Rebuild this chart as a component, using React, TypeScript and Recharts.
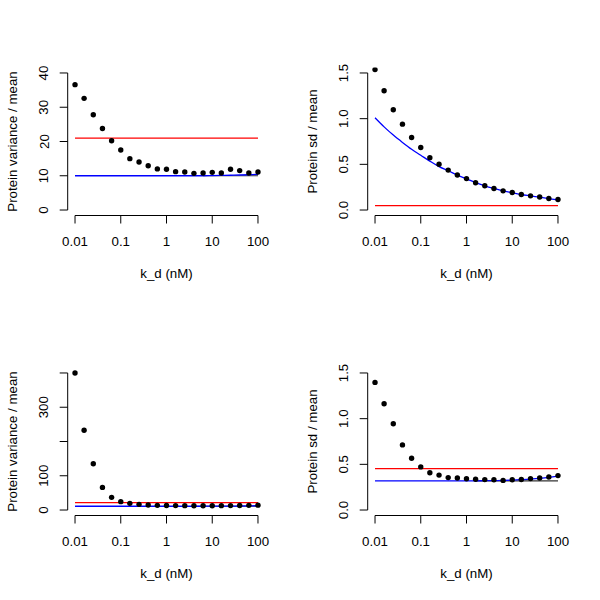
import React from "react";
import { ComposedChart, Line, Scatter, XAxis, YAxis, ReferenceLine } from "recharts";

// k_d grid (nM), five points per decade
const kd = [0.01, 0.0158, 0.0251, 0.0398, 0.0631, 0.1, 0.158, 0.251, 0.398, 0.631, 1, 1.58, 2.51, 3.98, 6.31, 10, 15.8, 25.1, 39.8, 63.1, 100];
const xTicks = [0.01, 0.1, 1, 10, 100];

// top left: variance / mean
const varPtsA = [36.6, 32.6, 27.8, 23.8, 20.2, 17.5, 15.0, 14.0, 12.9, 12.0, 11.9, 11.2, 11.1, 10.7, 10.8, 11.0, 10.8, 11.9, 11.5, 10.8, 11.1];
const varBlueA = [10, 10, 10, 10, 10, 10, 10, 10, 10, 10, 10, 10, 10, 10, 10, 10.05, 10.1, 10.15, 10.22, 10.3, 10.4];
const varRedA = 21;
const varBlackA = 10;

// top right: sd / mean
const sdPtsA = [1.537, 1.306, 1.098, 0.94, 0.794, 0.684, 0.573, 0.501, 0.437, 0.383, 0.344, 0.298, 0.265, 0.236, 0.21, 0.192, 0.17, 0.155, 0.143, 0.126, 0.115];
const sdBlueA = [1.01, 0.91, 0.82, 0.74, 0.665, 0.6, 0.535, 0.475, 0.43, 0.382, 0.342, 0.3, 0.265, 0.236, 0.21, 0.19, 0.17, 0.155, 0.14, 0.125, 0.11];
const sdRedA = 0.047;

// bottom left: variance / mean
const varPtsB = [400, 233, 135, 66, 37, 24.5, 19.5, 16.6, 14.6, 13.6, 13.2, 12.9, 12.7, 12.6, 12.6, 12.6, 12.7, 12.9, 13.2, 13.6, 14.2];
const varBlueB = [11, 11, 11, 11, 11, 11, 11, 11, 11, 11, 11, 11, 11, 11, 11.1, 11.2, 11.3, 11.5, 11.8, 12.1, 12.5];
const varRedB = 21.5;
const varBlackB = 11;

// bottom right: sd / mean
const sdPtsB = [1.397, 1.163, 0.944, 0.713, 0.567, 0.472, 0.408, 0.382, 0.355, 0.351, 0.342, 0.336, 0.333, 0.331, 0.324, 0.331, 0.334, 0.344, 0.351, 0.362, 0.377];
const sdBlueB = [0.32, 0.32, 0.32, 0.32, 0.32, 0.32, 0.32, 0.32, 0.32, 0.32, 0.32, 0.32, 0.321, 0.322, 0.324, 0.327, 0.332, 0.338, 0.346, 0.357, 0.372];
const sdRedB = 0.453;
const sdBlackB = 0.32;

const FONT = "'Liberation Sans', Arial, Helvetica, sans-serif";
const FS = 13.3;

// plot box inside each 300x300 panel (R-like margins)
const LEFT = 67.7;
const RIGHT = 265.3;
const TOP = 67.5;
const BOTTOM = 215.5;
const X_DOMAIN: [number, number] = [Math.pow(10, -2.16), Math.pow(10, 2.16)];

interface PanelProps {
    pts: number[];
    blue: number[];
    red: number;
    black?: number;
    yDomain: [number, number];
    yTicks: number[];
    yLabels: string[];
    yTitle: string;
}

const Panel: React.FC<PanelProps> = ({ pts, blue, red, black, yDomain, yTicks, yLabels, yTitle }) => {
    const rows = kd.map((k, i) => ({ k, pt: pts[i], blue: blue[i] }));
    const yTop = yTicks[yTicks.length - 1];

    // black reference only shows where the blue curve leaves it
    let blackFrom = kd[0];
    if (black !== undefined) {
        const i = blue.findIndex((v) => v > black);
        blackFrom = kd[Math.max(0, i - 1)];
    }

    const XTick = (p: any) => (
        <text x={p.x} y={241.7} textAnchor="middle" dominantBaseline="central" fontSize={FS} fontFamily={FONT} fill="#000">
            {String(p.payload.value)}
        </text>
    );

    const YTick = (p: any) => {
        const idx = yTicks.indexOf(p.payload.value);
        const label = yLabels[idx] ?? "";
        return (
            <text x={44} y={p.y} transform={`rotate(-90 44 ${p.y})`} textAnchor="middle" dominantBaseline="central" fontSize={FS} fontFamily={FONT} fill="#000">
                {label}
            </text>
        );
    };

    return (
        <ComposedChart width={300} height={300} data={rows} margin={{ top: TOP, right: 300 - RIGHT, left: 0, bottom: 0 }}>
            <XAxis
                dataKey="k"
                type="number"
                scale="log"
                domain={X_DOMAIN}
                ticks={xTicks}
                allowDataOverflow
                height={300 - BOTTOM}
                axisLine={false}
                tickSize={8}
                stroke="#000"
                tick={XTick}
                label={{
                    content: () => (
                        <text x={(LEFT + RIGHT) / 2} y={273.3} textAnchor="middle" dominantBaseline="central" fontSize={FS} fontFamily={FONT} fill="#000">
                            k_d (nM)
                        </text>
                    ),
                }}
            />
            <YAxis
                type="number"
                domain={yDomain}
                ticks={yTicks}
                allowDataOverflow
                width={LEFT}
                axisLine={false}
                tickSize={8}
                stroke="#000"
                tick={YTick}
                interval={0}
                label={{
                    content: () => (
                        <text x={12} y={(TOP + BOTTOM) / 2} transform={`rotate(-90 12 ${(TOP + BOTTOM) / 2})`} textAnchor="middle" dominantBaseline="central" fontSize={FS} fontFamily={FONT} fill="#000">
                            {yTitle}
                        </text>
                    ),
                }}
            />
            {/* axis lines only span first..last tick, like base R */}
            <ReferenceLine segment={[{ x: xTicks[0], y: yDomain[0] }, { x: xTicks[xTicks.length - 1], y: yDomain[0] }]} stroke="#000" ifOverflow="visible" />
            <ReferenceLine segment={[{ x: X_DOMAIN[0], y: yTicks[0] }, { x: X_DOMAIN[0], y: yTop }]} stroke="#000" ifOverflow="visible" />
            {black !== undefined && (
                <ReferenceLine segment={[{ x: blackFrom, y: black }, { x: kd[kd.length - 1], y: black }]} stroke="#333" strokeWidth={1.2} ifOverflow="visible" />
            )}
            <ReferenceLine segment={[{ x: kd[0], y: red }, { x: kd[kd.length - 1], y: red }]} stroke="#ff0000" strokeWidth={1.3} ifOverflow="visible" />
            <Line dataKey="blue" type="monotone" stroke="#0000ff" strokeWidth={1.3} dot={false} activeDot={false} isAnimationActive={false} />
            <Scatter
                dataKey="pt"
                fill="#000"
                isAnimationActive={false}
                shape={(p: any) => <circle cx={p.cx} cy={p.cy} r={2.7} fill="#000" />}
            />
        </ComposedChart>
    );
};

const App: React.FC = () => (
    <div
        style={{
            position: "absolute",
            left: 0,
            top: 0,
            width: 600,
            height: 600,
            background: "#fff",
            display: "flex",
            flexWrap: "wrap",
        }}
    >
        <Panel pts={varPtsA} blue={varBlueA} red={varRedA} black={varBlackA} yDomain={[-1.6, 41.6]} yTicks={[0, 10, 20, 30, 40]} yLabels={["0", "10", "20", "30", "40"]} yTitle="Protein variance / mean" />
        <Panel pts={sdPtsA} blue={sdBlueA} red={sdRedA} yDomain={[-0.06, 1.56]} yTicks={[0, 0.5, 1, 1.5]} yLabels={["0.0", "0.5", "1.0", "1.5"]} yTitle="Protein sd / mean" />
        <Panel pts={varPtsB} blue={varBlueB} red={varRedB} black={varBlackB} yDomain={[-16, 416]} yTicks={[0, 100, 200, 300, 400]} yLabels={["0", "100", "", "300", ""]} yTitle="Protein variance / mean" />
        <Panel pts={sdPtsB} blue={sdBlueB} red={sdRedB} black={sdBlackB} yDomain={[-0.06, 1.56]} yTicks={[0, 0.5, 1, 1.5]} yLabels={["0.0", "0.5", "1.0", "1.5"]} yTitle="Protein sd / mean" />
    </div>
);

export default App;
